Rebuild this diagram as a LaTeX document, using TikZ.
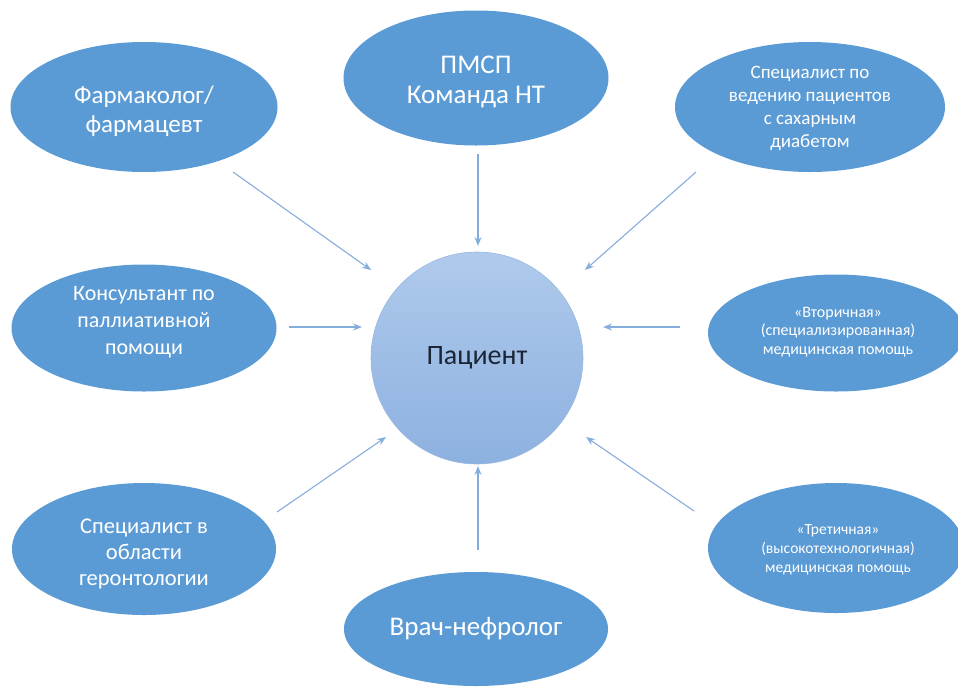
\documentclass[tikz,border=0pt]{standalone}
\usepackage{fontspec}
\setmainfont{Carlito}
\usetikzlibrary{shapes.geometric,arrows.meta}
\definecolor{ellblue}{HTML}{5B9BD5}
\definecolor{arrblue}{HTML}{86AEDD}
\definecolor{patTop}{HTML}{AFCAEC}
\definecolor{patBot}{HTML}{8DB1E0}
\definecolor{patEdge}{HTML}{9AB8E0}
\definecolor{patText}{HTML}{1B2536}
\tikzset{
  oval/.style={ellipse, fill=ellblue, draw=none, inner sep=0pt},
  lbl/.style={text=white, align=center, inner sep=0pt},
  conn/.style={draw=arrblue, line width=1.1pt, -{Stealth[length=9pt,width=7pt]}},
}
\begin{document}
\begin{tikzpicture}[x=1pt,y=-1pt]
\useasboundingbox (0,0) rectangle (958,686);
\fill[white] (0,0) rectangle (958,686);
% patient
\node[circle, minimum size=212pt, top color=patTop, bottom color=patBot, draw=patEdge, line width=0.6pt,
      text=patText, font=\fontsize{28}{32}\selectfont] (pat) at (477,358) {Пациент};
% ellipses
\node[oval, minimum width=267pt, minimum height=130pt] (farm) at (144,107) {};
\node[lbl, font=\fontsize{25}{29}\selectfont] (farmT) at (144,111) {Фармаколог/\\фармацевт};
\node[oval, minimum width=265pt, minimum height=135pt] (pmsp) at (476,78) {};
\node[lbl, font=\fontsize{27}{30}\selectfont] (pmspT) at (476,82) {ПМСП\\Команда НТ};
\node[oval, minimum width=270pt, minimum height=130pt] (diab) at (810,107) {};
\node[lbl, font=\fontsize{19}{23}\selectfont] (diabT) at (810,108) {Специалист по\\ведению пациентов\\с сахарным\\диабетом};
\node[oval, minimum width=265pt, minimum height=127pt] (pall) at (144,328) {};
\node[lbl, font=\fontsize{22}{27}\selectfont] (pallT) at (144,322) {Консультант по\\паллиативной\\помощи};
\node[oval, minimum width=256pt, minimum height=117pt] (sec) at (836,333) {};
\node[lbl, font=\fontsize{16}{18.5}\selectfont] (secT) at (838,332) {«Вторичная»\\(специализированная)\\медицинская помощь};
\node[oval, minimum width=264pt, minimum height=132pt] (ger) at (144,549) {};
\node[lbl, font=\fontsize{22.5}{26}\selectfont] (gerT) at (144,554) {Специалист в\\области\\геронтологии};
\node[oval, minimum width=256pt, minimum height=130pt] (ter) at (836,548) {};
\node[lbl, font=\fontsize{15.5}{19}\selectfont] (terT) at (838,550) {«Третичная»\\(высокотехнологичная)\\медицинская помощь};
\node[oval, minimum width=264pt, minimum height=114pt] (neph) at (476,629) {};
\node[lbl, font=\fontsize{27}{32}\selectfont] (nephT) at (476,629) {Врач-нефролог};
% connector ends
\coordinate (f1) at (233,172); \coordinate (f2) at (371,270);
\coordinate (p1) at (478,154); \coordinate (p2) at (478,246);
\coordinate (d1) at (696,172); \coordinate (d2) at (585,270);
\coordinate (l1) at (289,327); \coordinate (l2) at (362,327);
\coordinate (s1) at (680,327); \coordinate (s2) at (603,327);
\coordinate (g1) at (277,512); \coordinate (g2) at (386,437);
\coordinate (n1) at (478,550); \coordinate (n2) at (478,466);
\coordinate (t1) at (694,511); \coordinate (t2) at (586,437);
\draw[conn] (f1) -- (f2);
\draw[conn] (p1) -- (p2);
\draw[conn] (d1) -- (d2);
\draw[conn] (l1) -- (l2);
\draw[conn] (s1) -- (s2);
\draw[conn] (g1) -- (g2);
\draw[conn] (n1) -- (n2);
\draw[conn] (t1) -- (t2);
\end{tikzpicture}
\end{document}
